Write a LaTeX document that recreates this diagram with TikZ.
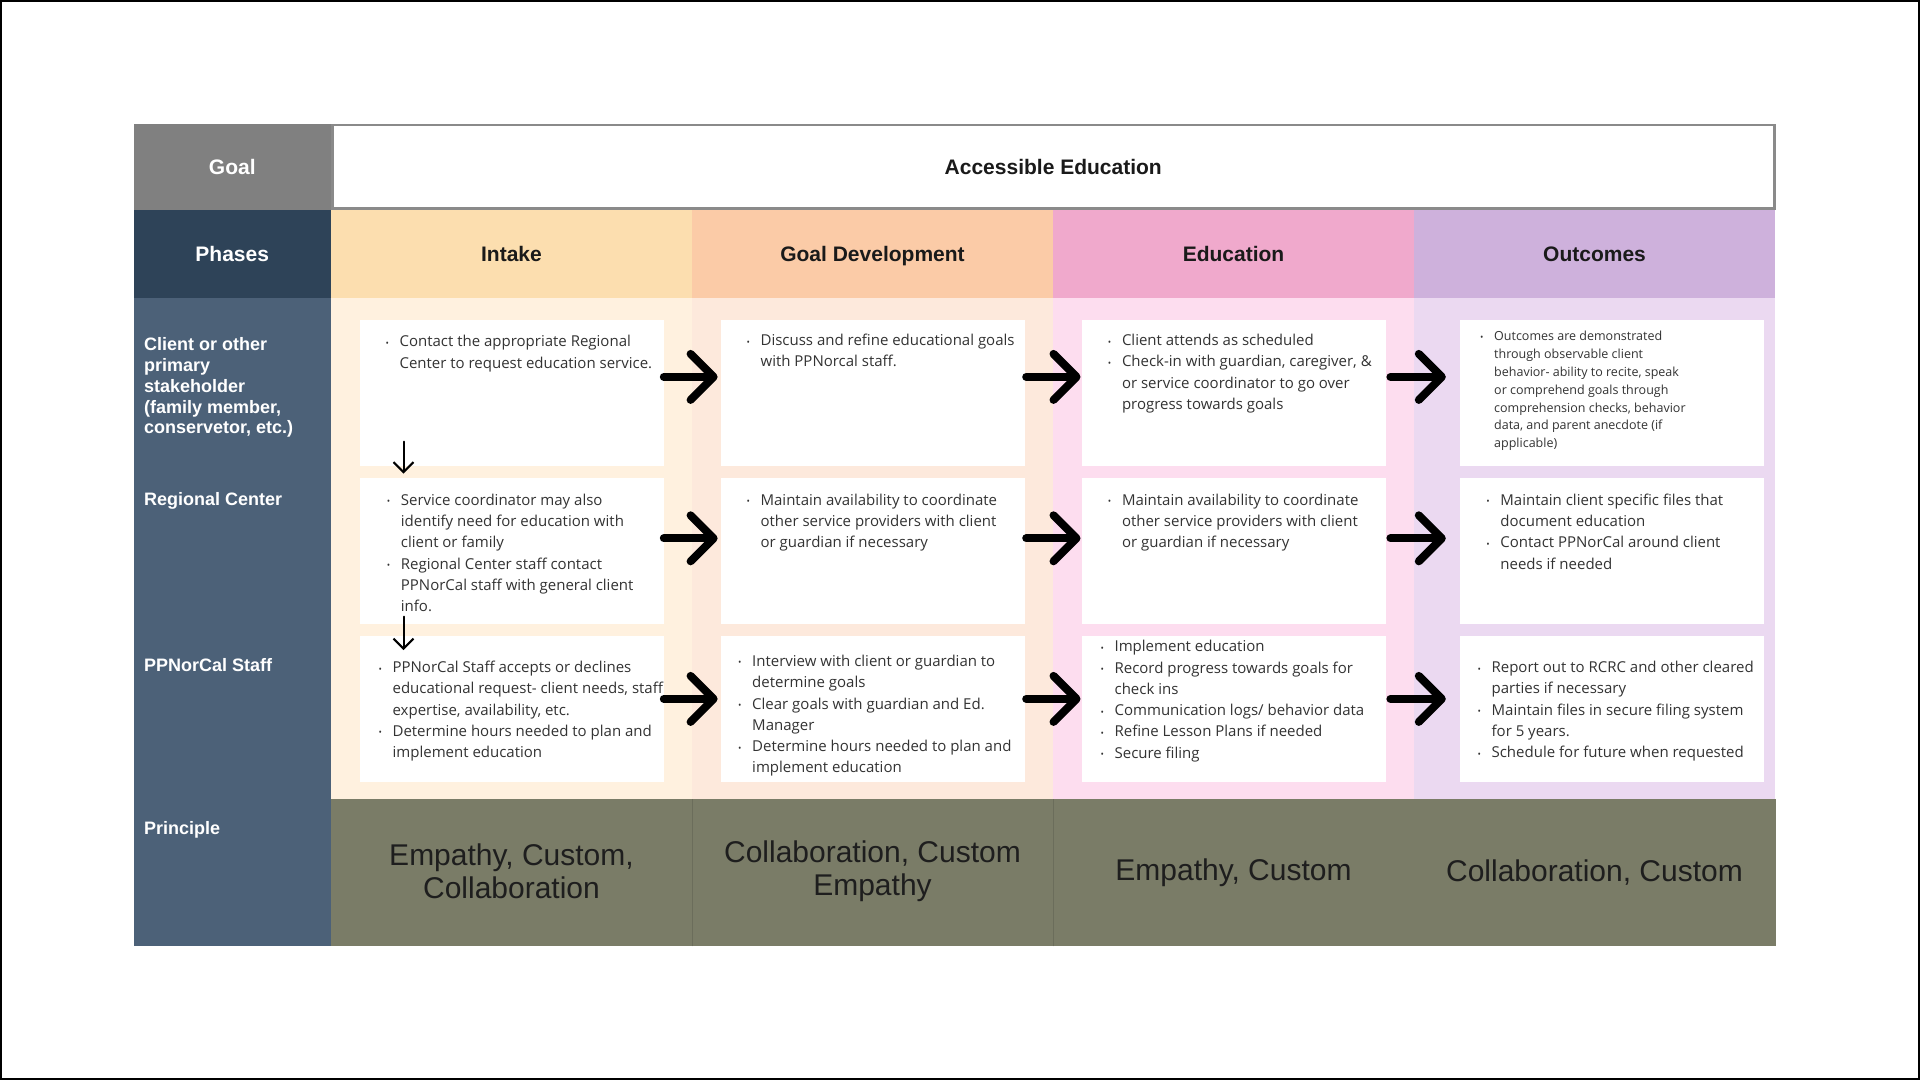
\documentclass[tikz,border=0pt]{standalone}
\usepackage{fontspec}
\setmainfont{Liberation Sans}
\newfontfamily\notefamily{Open Sans}
\usetikzlibrary{arrows.meta,positioning,calc}
\definecolor{goalgray}{HTML}{808080}
\definecolor{framegray}{HTML}{8A8A8A}
\definecolor{phasenavy}{HTML}{2E4358}
\definecolor{rowslate}{HTML}{4C6178}
\definecolor{intakehead}{HTML}{FCDEAF}
\definecolor{intakebody}{HTML}{FFF1DF}
\definecolor{devhead}{HTML}{FBCBA7}
\definecolor{devbody}{HTML}{FDE9DC}
\definecolor{eduhead}{HTML}{F0A9CC}
\definecolor{edubody}{HTML}{FDDDEF}
\definecolor{outhead}{HTML}{CEB1DC}
\definecolor{outbody}{HTML}{EBD9F1}
\definecolor{olive}{HTML}{7A7C67}
\definecolor{inktext}{HTML}{333333}
\definecolor{headink}{HTML}{1A1A1A}
\definecolor{princink}{HTML}{1E1E1E}

\newcommand\hdrfont{\fontsize{21}{25}\selectfont\bfseries}
\newcommand\rowfont{\fontsize{18}{20.8}\selectfont\bfseries}
\newcommand\notefnt{\notefamily\fontsize{15}{21.3}\selectfont}
\newcommand\notesmall{\notefamily\fontsize{12.5}{17.8}\selectfont}
\newcommand\princfont{\fontsize{30}{33}\selectfont}
\newlength\bulw \setlength\bulw{14.1pt}
\newcommand\bu{\rule{0pt}{12pt}\makebox[\bulw][l]{\raisebox{0.6pt}{\fontsize{9}{9}\selectfont\textbullet}}}
\newcommand\cn{\hspace*{\bulw}}
\newcommand\rl{\rule{0pt}{13pt}}

\tikzset{
  cellhead/.style={inner sep=0pt, font=\hdrfont, text height=15pt, text depth=0pt},
  phasehead/.style={cellhead, minimum width=361pt, minimum height=88pt, text=headink},
  notebox/.style={fill=white, minimum width=304pt, minimum height=146pt, inner sep=0pt},
  notetext/.style={anchor=north west, inner sep=0pt, align=left, font=\notefnt, text=inktext},
  rowlabel/.style={anchor=north west, inner sep=0pt, align=left, font=\rowfont, text=white},
  princ/.style={align=center, font=\princfont, text=princink, inner sep=0pt},
  bigarrow/.style={line width=8pt, -{Straight Barb[length=23pt,width=46pt,round]}},
  downarrow/.style={line width=2pt, -{Straight Barb[length=10pt,width=20pt]}},
}

\begin{document}
\begin{tikzpicture}[x=1pt,y=-1pt,>=Latex,line cap=round]
  \useasboundingbox (0,0) rectangle (1920,1080);
  \draw[line width=2pt] (1,1) rectangle (1919,1079);

  % left column and principle band
  \fill[rowslate] (133.5,297.5) rectangle (331,945.5);
  \fill[olive] (331,798.5) rectangle (1775.5,945.5);
  \draw[olive!88!black,line width=1pt] (692,798.5) -- (692,945.5);
  \draw[olive!88!black,line width=1pt] (1053,798.5) -- (1053,945.5);

  % goal row
  \node[cellhead,fill=goalgray,text=white,minimum width=197.5pt,minimum height=86pt] (goal) at (232.25,166.5) {Goal};
  \node[cellhead,draw=framegray,line width=2.5pt,fill=white,text=headink,
        minimum width=1442pt,minimum height=83.5pt] (acc) at (1053.25,166.5) {Accessible Education};

  % phases
  \node[cellhead,fill=phasenavy,text=white,minimum width=197.5pt,minimum height=88pt] (phases) at (232.25,253.5) {Phases};
  \foreach \nm/\cx/\hc/\bc/\ttl in {Intake/511.5/intakehead/intakebody/Intake,
      Dev/872.5/devhead/devbody/Goal Development,
      Edu/1233.5/eduhead/edubody/Education,
      Out/1594.5/outhead/outbody/Outcomes}{
    \fill[\bc] (\cx-180.5,297.5) rectangle (\cx+180.5,798.5);
    \node[phasehead,fill=\hc] (h\nm) at (\cx,253.5) {\ttl};
  }

  % row labels
  \node[rowlabel] (lClient) at (144,337.5) {\rl Client or other\\primary\\stakeholder\\(family member,\\conservetor, etc.)};
  \node[rowlabel] (lRegional) at (144,491.8) {\rl Regional Center};
  \node[rowlabel] (lStaff) at (144,658.4) {\rl PPNorCal Staff};
  \node[rowlabel] (lPrinciple) at (144,821.2) {\rl Principle};

  % white note boxes
  \foreach \nm/\cx in {i/511.6, g/872.5, e/1234.2, o/1611.5}
    \foreach \r/\cy in {1/392.9, 2/551.3, 3/708.9}
      \node[notebox] (\nm\r) at (\cx,\cy) {};

  % intake
  \node[notetext] (ti1) at (385.3,334.6) {\bu Contact the appropriate Regional\\\cn Center to request education service.};
  \node[notetext] (ti2) at (386.6,493) {\bu Service coordinator may also\\\cn identify need for education with\\\cn client or family\\
    \bu Regional Center staff contact\\\cn PPNorCal staff with general client\\\cn info.};
  \node[notetext] (ti3) at (378.3,660.4) {\bu PPNorCal Staff accepts or declines\\\cn educational request- client needs, staff\\\cn expertise, availability, etc.\\
    \bu Determine hours needed to plan and\\\cn implement education};

  % goal development
  \node[notetext] (tg1) at (746.3,333.4) {\bu Discuss and refine educational goals\\\cn with PPNorcal staff.};
  \node[notetext] (tg2) at (746.3,493) {\bu Maintain availability to coordinate\\\cn other service providers with client\\\cn or guardian if necessary};
  \node[notetext] (tg3) at (737.9,654.2) {\bu Interview with client or guardian to\\\cn determine goals\\
    \bu Clear goals with guardian and Ed.\\\cn Manager\\
    \bu Determine hours needed to plan and\\\cn implement education};

  % education
  \node[notetext] (te1) at (1107.7,333.4) {\bu Client attends as scheduled\\
    \bu Check-in with guardian, caregiver, \&\\\cn or service coordinator to go over\\\cn progress towards goals};
  \node[notetext] (te2) at (1107.7,493) {\bu Maintain availability to coordinate\\\cn other service providers with client\\\cn or guardian if necessary};
  \node[notetext] (te3) at (1100.3,639.5) {\bu Implement education\\
    \bu Record progress towards goals for\\\cn check ins\\
    \bu Communication logs/ behavior data\\
    \bu Refine Lesson Plans if needed\\
    \bu Secure filing};

  % outcomes
  \node[notetext,font=\notesmall] (to1) at (1479.9,328.7) {\bu Outcomes are demonstrated\\\cn through observable client\\\cn behavior- ability to recite, speak\\\cn or comprehend goals through\\\cn comprehension checks, behavior\\\cn data, and parent anecdote (if\\\cn applicable)};
  \node[notetext] (to2) at (1486.1,493) {\bu Maintain client specific files that\\\cn document education\\
    \bu Contact PPNorCal around client\\\cn needs if needed};
  \node[notetext] (to3) at (1477.3,660.4) {\bu Report out to RCRC and other cleared\\\cn parties if necessary\\
    \bu Maintain files in secure filing system\\\cn for 5 years.\\
    \bu Schedule for future when requested};

  % principles
  \node[princ] (pIntake) at (511.5,871) {Empathy, Custom,\\Collaboration};
  \node[princ] (pDev) at (872.5,871) {Collaboration, Custom\\Empathy};
  \node[princ] (pEdu) at (1233.5,873) {Empathy, Custom};
  \node[princ] (pOut) at (1594.5,873) {Collaboration, Custom};

  % flow arrows
  \foreach \a/\b/\sa/\sb in {i/g/0/2.7, g/e/1.5/1.5, e/o/4/13.5}
    \foreach \r/\dy in {1/16, 2/13, 3/10}
      \draw[bigarrow,shorten <=\sa pt,shorten >=\sb pt] ([yshift=\dy pt]\a\r.east) -- ([yshift=\dy pt]\b\r.west);

  \coordinate (d1a) at (403.5,441.5);
  \coordinate (d1b) at (403.5,473.5);
  \coordinate (d2a) at (403.5,616.5);
  \coordinate (d2b) at (403.5,650);
  \draw[downarrow] (d1a) -- (d1b);
  \draw[downarrow] (d2a) -- (d2b);
\end{tikzpicture}
\end{document}
